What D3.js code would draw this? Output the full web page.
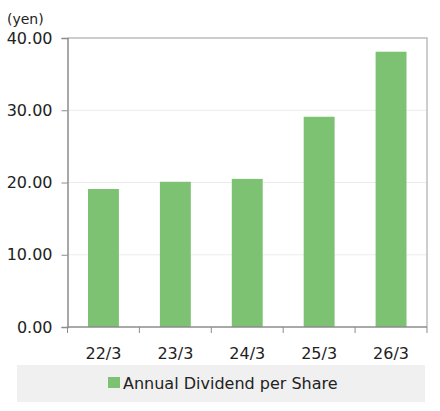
<!DOCTYPE html>
<html>
<head>
<meta charset="utf-8">
<script src="https://cdn.jsdelivr.net/npm/d3@7"></script>
<style>
  body { margin: 0; background: #fff; }
  text { font-family: "DejaVu Sans", Verdana, sans-serif; fill: #222; }
</style>
</head>
<body>
<svg id="chart" width="440" height="411"></svg>
<script>
const categories = ["22/3", "23/3", "24/3", "25/3", "26/3"]
const dividends = [19.1, 20.1, 20.5, 29.1, 38.1]
const yTicks = [0, 10, 20, 30, 40]
const seriesName = "Annual Dividend per Share"
const unitLabel = "(yen)"

const svg = d3.select("#chart")
const margin = {left: 67.5, right: 13, top: 38, bottom: 84}
const width = 440, height = 411
const plotW = width - margin.left - margin.right
const plotH = height - margin.top - margin.bottom

const x = d3.scaleBand()
    .domain(categories)
    .range([0, plotW])
    .paddingInner(0.57)
    .paddingOuter(0.285)

const y = d3.scaleLinear()
    .domain([0, 40])
    .range([plotH, 0])

const g = svg.append("g")
    .attr("transform", `translate(${margin.left},${margin.top})`)

// grid
g.append("g").selectAll("line")
    .data(yTicks.filter(d => d > 0 && d < 40))
    .enter().append("line")
    .attr("x1", 0).attr("x2", plotW)
    .attr("y1", d => y(d)).attr("y2", d => y(d))
    .attr("stroke", "#ececec")

// frame top/right
g.append("path")
    .attr("d", `M0,${y(40)}H${plotW}V${plotH}`)
    .attr("fill", "none")
    .attr("stroke", "#bdbdbd")
    .attr("stroke-width", 1.5)

// bars
g.append("g").selectAll("rect")
    .data(dividends)
    .enter().append("rect")
    .attr("x", (d, i) => x(categories[i]))
    .attr("width", x.bandwidth())
    .attr("y", d => y(d))
    .attr("height", d => plotH - y(d))
    .attr("fill", "#7dc272")

// y axis
const yAxis = g.append("g")
    .call(d3.axisLeft(y).tickValues(yTicks).tickFormat(d3.format(".2f")).tickSize(6).tickPadding(9))
yAxis.select(".domain").attr("stroke", "#8c8c8c").attr("stroke-width", 1.5)
yAxis.selectAll(".tick line").attr("stroke", "#8c8c8c")
yAxis.selectAll("text").attr("font-size", 16).attr("fill", "#222")

// x axis
const xEdges = categories.map(c => x(c) - x.step() * x.paddingInner() / 2).concat([plotW])
const xAxis = g.append("g")
    .attr("transform", `translate(0,${plotH})`)
xAxis.append("line")
    .attr("x1", 0).attr("x2", plotW)
    .attr("stroke", "#8c8c8c").attr("stroke-width", 1.5)
xAxis.selectAll(".xt")
    .data(xEdges)
    .enter().append("line")
    .attr("x1", d => d).attr("x2", d => d)
    .attr("y1", 0).attr("y2", 6)
    .attr("stroke", "#8c8c8c")
xAxis.selectAll(".xl")
    .data(categories)
    .enter().append("text")
    .attr("x", d => x(d) + x.bandwidth() / 2)
    .attr("y", 32)
    .attr("text-anchor", "middle")
    .attr("font-size", 16)
    .text(d => d)

// unit label
svg.append("text")
    .attr("x", 7).attr("y", 24)
    .attr("font-size", 14)
    .text(unitLabel)

// legend
const lg = svg.append("g")
lg.append("rect")
    .attr("x", 17).attr("y", 365)
    .attr("width", 408).attr("height", 37)
    .attr("fill", "#f0f0f0")
lg.append("rect")
    .attr("x", 108).attr("y", 377)
    .attr("width", 12).attr("height", 11)
    .attr("fill", "#7dc272")
lg.append("text")
    .attr("x", 123).attr("y", 389)
    .attr("font-size", 16)
    .text(seriesName)
</script>
</body>
</html>
